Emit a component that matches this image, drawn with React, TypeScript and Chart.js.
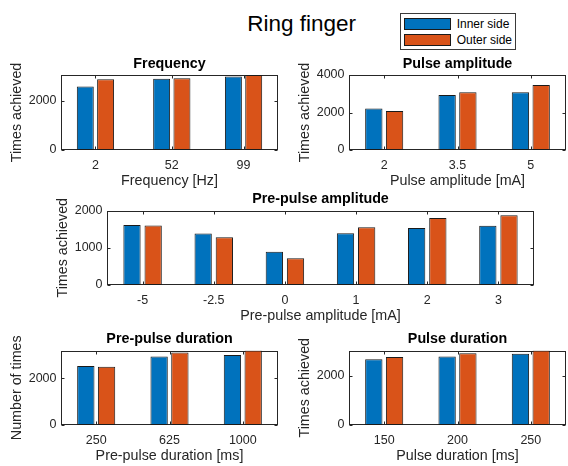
import React, { useEffect, useRef } from "react";
import { Chart, registerables } from "chart.js";

Chart.register(...registerables);

const FONT = '"Liberation Sans", Arial, Helvetica, sans-serif';
const AXIS_COLOR = "#262626";
const EDGE_COLOR = "#1a1a1a";

// ---------- data ----------
const mainTitle = "Ring finger";
const seriesNames = ["Inner side", "Outer side"];
const seriesColors = ["#0072BD", "#D95319"];

const freqValues = [2, 52, 99];
const freqInner = [2570, 2890, 2980];
const freqOuter = [2870, 2910, 3040];

const pulseAmpValues = [2, 3.5, 5];
const pulseAmpInner = [2220, 2930, 3080];
const pulseAmpOuter = [2080, 3080, 3470];

const prePulseAmpLabels = ["-5", "-2.5", "0", "1", "2", "3"];
const prePulseAmpInner = [1610, 1380, 890, 1390, 1530, 1590];
const prePulseAmpOuter = [1600, 1280, 720, 1550, 1800, 1870];

const prePulseDurValues = [250, 625, 1000];
const prePulseDurInner = [2530, 2930, 3000];
const prePulseDurOuter = [2490, 3100, 3190];

const pulseDurValues = [150, 200, 250];
const pulseDurInner = [2680, 2800, 2910];
const pulseDurOuter = [2770, 2930, 3040];

// ---------- layout ----------
type Rect = { x: number; y: number; w: number; h: number };
type Box = { l: number; t: number; r: number; b: number };
type PanelSpec = {
  title: string;
  xLabel: string;
  yLabel: string;
  xValues?: number[];
  xLabels?: string[];
  inner: number[];
  outer: number[];
  yMax: number;
  yStep: number;
  rect: Rect;
  box: Box;
};

const dataMax = (a: number[], b: number[]) => Math.max(...a, ...b);

const panels: PanelSpec[] = [
  {
    title: "Frequency",
    xLabel: "Frequency [Hz]",
    yLabel: "Times achieved",
    xValues: freqValues,
    inner: freqInner,
    outer: freqOuter,
    yMax: dataMax(freqInner, freqOuter),
    yStep: 2000,
    rect: { x: 0, y: 40, w: 284, h: 155 },
    box: { l: 61, t: 75, r: 278, b: 150 },
  },
  {
    title: "Pulse amplitude",
    xLabel: "Pulse amplitude [mA]",
    yLabel: "Times achieved",
    xValues: pulseAmpValues,
    inner: pulseAmpInner,
    outer: pulseAmpOuter,
    yMax: 4000,
    yStep: 2000,
    rect: { x: 288, y: 40, w: 280, h: 155 },
    box: { l: 349, t: 75, r: 566, b: 150 },
  },
  {
    title: "Pre-pulse amplitude",
    xLabel: "Pre-pulse amplitude [mA]",
    yLabel: "Times achieved",
    xLabels: prePulseAmpLabels,
    inner: prePulseAmpInner,
    outer: prePulseAmpOuter,
    yMax: 2000,
    yStep: 1000,
    rect: { x: 46, y: 175, w: 500, h: 155 },
    box: { l: 107, t: 210.5, r: 534, b: 285 },
  },
  {
    title: "Pre-pulse duration",
    xLabel: "Pre-pulse duration [ms]",
    yLabel: "Number of times",
    xValues: prePulseDurValues,
    inner: prePulseDurInner,
    outer: prePulseDurOuter,
    yMax: dataMax(prePulseDurInner, prePulseDurOuter),
    yStep: 2000,
    rect: { x: 0, y: 315, w: 284, h: 151 },
    box: { l: 61, t: 350.5, r: 278, b: 425 },
  },
  {
    title: "Pulse duration",
    xLabel: "Pulse duration [ms]",
    yLabel: "Times achieved",
    xValues: pulseDurValues,
    inner: pulseDurInner,
    outer: pulseDurOuter,
    yMax: dataMax(pulseDurInner, pulseDurOuter),
    yStep: 2000,
    rect: { x: 288, y: 315, w: 280, h: 151 },
    box: { l: 349, t: 350.5, r: 566, b: 425 },
  },
];

const TICK_SIZE = 12.5;
const LABEL_SIZE = 14.3;
const TITLE_SIZE = 14.3;
const TITLE_PAD_BOTTOM = 2.5;
const X_TITLE_OFFSET = 31; // distance from box bottom to x-title centre
const Y_TITLE_CENTER = 17.5; // distance from canvas left to y-title centre

const matlabBox = {
  id: "matlabBox",
  beforeDatasetsDraw(chart: any) {
    const { ctx, chartArea: a, scales } = chart;
    const l = Math.round(a.left) + 0.5;
    const r = Math.round(a.right) - 0.5;
    const t = Math.round(a.top) + 0.5;
    const b = Math.round(a.bottom) - 0.5;
    ctx.save();
    ctx.strokeStyle = AXIS_COLOR;
    ctx.lineWidth = 1;
    ctx.beginPath();
    const len = 3;
    scales.x.ticks.forEach((_: any, i: number) => {
      const px = Math.round(scales.x.getPixelForTick(i)) + 0.5;
      ctx.moveTo(px, b);
      ctx.lineTo(px, b - len);
      ctx.moveTo(px, t);
      ctx.lineTo(px, t + len);
    });
    scales.y.ticks.forEach((_: any, i: number) => {
      const py = Math.round(scales.y.getPixelForTick(i)) + 0.5;
      ctx.moveTo(l, py);
      ctx.lineTo(l + len, py);
      ctx.moveTo(r, py);
      ctx.lineTo(r - len, py);
    });
    ctx.stroke();
    ctx.strokeRect(l, t, r - l, b - t);
    ctx.restore();
  },
};

function buildConfig(p: PanelSpec): any {
  const numeric = Array.isArray(p.xValues);
  const series = [p.inner, p.outer];
  const datasets = series.map((vals, s) => ({
    label: seriesNames[s],
    data: numeric ? vals.map((v, i) => ({ x: p.xValues![i], y: v })) : vals,
    backgroundColor: seriesColors[s],
    borderColor: EDGE_COLOR,
    borderWidth: 1,
    borderSkipped: false,
    categoryPercentage: numeric ? 0.566 : 0.595,
    barPercentage: numeric ? 0.835 : 0.816,
  }));

  const titleH = TITLE_SIZE * 1.2 + TITLE_PAD_BOTTOM;
  const yAxisWidth = p.box.l - p.rect.x;
  const xAxisHeight = p.rect.y + p.rect.h - p.box.b;
  const xTitlePadBottom = xAxisHeight - X_TITLE_OFFSET - (LABEL_SIZE * 1.2) / 2;
  const yTitlePadTop = Y_TITLE_CENTER - (LABEL_SIZE * 1.2) / 2;

  const tickFont = { family: FONT, size: TICK_SIZE };
  const labelFont = { family: FONT, size: LABEL_SIZE };

  const yTicks: number[] = [];
  for (let v = 0; v <= p.yMax + 1e-9; v += p.yStep) yTicks.push(v);

  let xScale: any;
  const commonX = {
    border: { display: false },
    grid: { display: false, drawTicks: false },
    title: {
      display: true,
      text: p.xLabel,
      color: AXIS_COLOR,
      font: labelFont,
      padding: { top: 0, bottom: xTitlePadBottom },
    },
    afterFit: (s: any) => {
      s.height = xAxisHeight;
    },
  };
  if (numeric) {
    const xs = p.xValues!;
    let minGap = Infinity;
    for (let i = 1; i < xs.length; i++) minGap = Math.min(minGap, xs[i] - xs[i - 1]);
    const pad = minGap * 0.48;
    xScale = {
      ...commonX,
      type: "linear",
      min: xs[0] - pad,
      max: xs[xs.length - 1] + pad,
      offset: false,
      afterBuildTicks: (s: any) => {
        s.ticks = xs.map((v) => ({ value: v }));
      },
      ticks: {
        autoSkip: false,
        maxRotation: 0,
        padding: 8,
        color: AXIS_COLOR,
        font: tickFont,
        callback: (v: any) => String(v),
      },
    };
  } else {
    xScale = {
      ...commonX,
      type: "category",
      offset: true,
      ticks: {
        autoSkip: false,
        maxRotation: 0,
        padding: 8,
        color: AXIS_COLOR,
        font: tickFont,
      },
    };
  }

  return {
    type: "bar",
    data: {
      labels: numeric ? undefined : p.xLabels,
      datasets,
    },
    options: {
      responsive: false,
      animation: false,
      events: [],
      layout: {
        padding: {
          left: 0,
          top: p.box.t - p.rect.y - titleH,
          right: p.rect.x + p.rect.w - p.box.r,
          bottom: 0,
        },
      },
      plugins: {
        legend: { display: false },
        tooltip: { enabled: false },
        title: {
          display: true,
          fullSize: false,
          text: p.title,
          color: "#000000",
          font: { family: FONT, size: TITLE_SIZE, weight: "bold" },
          padding: { top: 0, bottom: TITLE_PAD_BOTTOM },
        },
      },
      scales: {
        x: xScale,
        y: {
          type: "linear",
          min: 0,
          max: p.yMax,
          border: { display: false },
          grid: { display: false, drawTicks: false },
          afterBuildTicks: (s: any) => {
            s.ticks = yTicks.map((v) => ({ value: v }));
          },
          ticks: {
            padding: 4.5,
            color: AXIS_COLOR,
            font: tickFont,
            callback: (v: any) => String(v),
          },
          title: {
            display: true,
            text: p.yLabel,
            color: AXIS_COLOR,
            font: labelFont,
            padding: { top: yTitlePadTop, bottom: 0 },
          },
          afterFit: (s: any) => {
            s.width = yAxisWidth;
          },
        },
      },
    },
    plugins: [matlabBox],
  };
}

function Panel({ spec }: { spec: PanelSpec }) {
  const ref = useRef<HTMLCanvasElement>(null);
  useEffect(() => {
    const chart = new Chart(ref.current as HTMLCanvasElement, buildConfig(spec));
    return () => chart.destroy();
  }, [spec]);
  return (
    <canvas
      ref={ref}
      width={spec.rect.w}
      height={spec.rect.h}
      style={{
        position: "absolute",
        left: spec.rect.x,
        top: spec.rect.y,
        width: spec.rect.w,
        height: spec.rect.h,
      }}
    />
  );
}

function Legend() {
  return (
    <div
      style={{
        position: "absolute",
        left: 400,
        top: 13,
        width: 116,
        height: 37,
        boxSizing: "border-box",
        border: "1px solid #3a3a3a",
        background: "#ffffff",
        fontFamily: FONT,
      }}
    >
      {seriesNames.map((name, i) => (
        <div
          key={name}
          style={{
            position: "absolute",
            left: 3,
            top: 3.7 + 16 * i,
            height: 12.3,
            display: "flex",
            alignItems: "center",
          }}
        >
          <div
            style={{
              width: 47,
              height: 12.3,
              boxSizing: "border-box",
              border: `1px solid ${EDGE_COLOR}`,
              background: seriesColors[i],
            }}
          />
          <span
            style={{
              marginLeft: 5.7,
              fontSize: 12,
              lineHeight: 1,
              color: "#000",
              whiteSpace: "nowrap",
            }}
          >
            {name}
          </span>
        </div>
      ))}
    </div>
  );
}

export default function App() {
  return (
    <div
      style={{
        position: "fixed",
        left: 0,
        top: 0,
        width: 568,
        height: 466,
        background: "#ffffff",
        overflow: "hidden",
      }}
    >
      <div
        style={{
          position: "absolute",
          left: 151.7,
          top: 12.6,
          width: 300,
          textAlign: "center",
          fontFamily: FONT,
          fontSize: 22.5,
          lineHeight: 1,
          color: "#000",
        }}
      >
        {mainTitle}
      </div>
      {panels.map((p) => (
        <Panel key={p.title} spec={p} />
      ))}
      <Legend />
    </div>
  );
}
